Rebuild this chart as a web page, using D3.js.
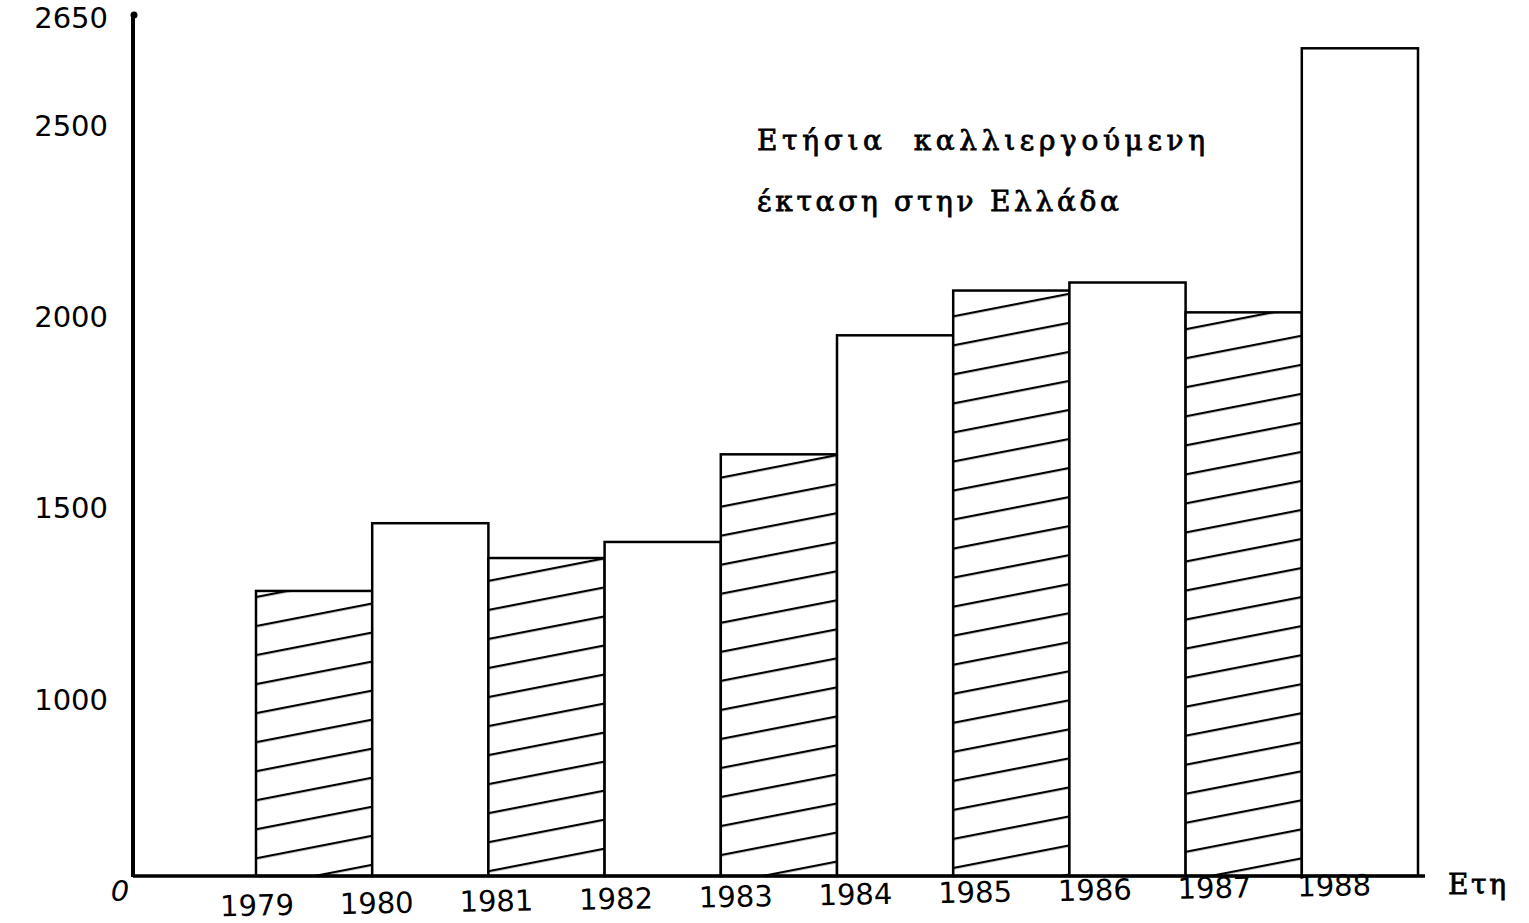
<!DOCTYPE html>
<html>
<head>
<meta charset="utf-8">
<script src="https://cdn.jsdelivr.net/npm/d3@7"></script>
<style>
  body { margin: 0; background: #fff; }
  svg { display: block; }
</style>
</head>
<body>
<div id="chart"></div>
<script>
const years = [1979, 1980, 1981, 1982, 1983, 1984, 1985, 1986, 1987, 1988]
const areaValues = [1285, 1462, 1371, 1413, 1642, 1953, 2070, 2091, 2013, 2605]
const shadedYears = [1979, 1981, 1983, 1985, 1987]
const yTickValues = [0, 1000, 1500, 2000, 2500, 2650]
const titleLines = ['Ετήσια  καλλιεργούμενη', 'έκταση στην Ελλάδα']
const xAxisName = 'Ετη'

let width = 1529, height = 923
let svg = d3.select('#chart').append('svg')
  .attr('width', width)
  .attr('height', height)

svg.append('rect').attr('width', width).attr('height', height).attr('fill', '#fff')

// broken axis: 0..1000 squeezed, top label above the regular step
let y = d3.scaleLinear().domain([0, 1000, 2500, 2650]).range([876, 700, 126, 15])
let x = d3.scaleLinear().domain([1979, 1989]).range([256, 1418])

let defs = svg.append('defs')
let pat = defs.append('pattern')
  .attr('id', 'hatch')
  .attr('patternUnits', 'userSpaceOnUse')
  .attr('width', 20)
  .attr('height', 28.5)
  .attr('patternTransform', 'rotate(-11)')
pat.append('rect').attr('width', 20).attr('height', 28.5).attr('fill', '#fff')
pat.append('line')
  .attr('x1', -1).attr('x2', 21)
  .attr('y1', 8).attr('y2', 8)
  .attr('stroke', '#000')
  .attr('stroke-width', 2.2)

let bars = years.map((yr, i) => ({year: yr, value: areaValues[i]}))

svg.append('g').selectAll('rect')
  .data(bars)
  .join('rect')
  .attr('x', d => x(d.year))
  .attr('y', d => y(d.value))
  .attr('width', d => x(d.year + 1) - x(d.year))
  .attr('height', d => y(0) - y(d.value))
  .attr('fill', d => shadedYears.includes(d.year) ? 'url(#hatch)' : '#fff')
  .attr('stroke', '#000')
  .attr('stroke-width', 2.5)

// axes lines
svg.append('line')
  .attr('x1', 133).attr('x2', 133)
  .attr('y1', y(2650)).attr('y2', y(0) + 1)
  .attr('stroke', '#000').attr('stroke-width', 4)
svg.append('circle')
  .attr('cx', 134).attr('cy', y(2650)).attr('r', 3.5).attr('fill', '#000')
svg.append('line')
  .attr('x1', 133).attr('x2', 1425)
  .attr('y1', y(0)).attr('y2', y(0))
  .attr('stroke', '#000').attr('stroke-width', 3.5)

let yAxis = svg.append('g')
  .attr('transform', 'translate(133,0)')
  .call(d3.axisLeft(y).tickValues(yTickValues).tickFormat(d3.format('d')).tickSize(0).tickPadding(25))
yAxis.select('.domain').remove()
yAxis.selectAll('text')
  .attr('font-family', '"DejaVu Sans", sans-serif')
  .attr('font-size', 29)
  .attr('fill', '#000')
yAxis.selectAll('.tick').filter(d => d === 2650).select('text')
  .attr('dy', '0.42em')
yAxis.selectAll('.tick').filter(d => d === 0).select('text')
  .attr('text-anchor', 'middle')
  .attr('x', -13)
  .attr('dy', 24)
  .attr('font-style', 'italic')

let xAxis = svg.append('g')
  .attr('transform', `translate(0,${y(0)}) rotate(-1.05, ${x(1979)}, 0)`)
  .call(d3.axisBottom(x).tickValues(years).tickFormat(d3.format('d')).tickSize(0).tickPadding(19))
xAxis.select('.domain').remove()
xAxis.selectAll('text')
  .attr('font-family', '"DejaVu Sans", sans-serif')
  .attr('font-size', 29)
  .attr('fill', '#000')
  .attr('dx', (d, i) => i * 3.5)

svg.append('text')
  .attr('x', 1448)
  .attr('y', 894)
  .attr('font-family', '"DejaVu Serif", serif')
  .attr('font-size', 28)
  .attr('stroke', '#000')
  .attr('stroke-width', 0.8)
  .attr('textLength', 58)
  .attr('lengthAdjust', 'spacing')
  .text(xAxisName)

let titleWidths = [448, 362]
svg.append('g').selectAll('text')
  .data(titleLines)
  .join('text')
  .attr('x', 757)
  .attr('y', (d, i) => 150 + i * 61)
  .attr('font-family', '"DejaVu Serif", serif')
  .attr('font-size', 28)
  .attr('stroke', '#000')
  .attr('stroke-width', 0.8)
  .attr('textLength', (d, i) => titleWidths[i])
  .attr('lengthAdjust', 'spacing')
  .style('white-space', 'pre')
  .attr('xml:space', 'preserve')
  .text(d => d)
</script>
</body>
</html>
